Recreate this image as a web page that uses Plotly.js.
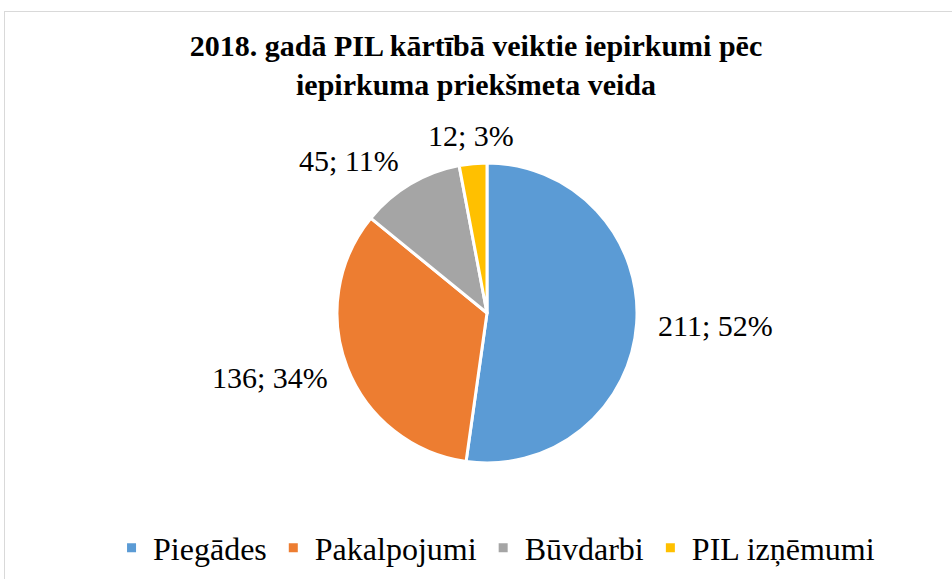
<!DOCTYPE html>
<html>
<head>
<meta charset="utf-8">
<script src="https://cdn.plot.ly/plotly-3.0.1.min.js"></script>
<style>
  html, body { margin: 0; padding: 0; background: #ffffff; }
  #chart { position: absolute; left: 0; top: 0; width: 952px; height: 579px; }
  #frame { position: absolute; left: 4px; top: 11px; width: 960px; height: 600px;
           border-left: 1px solid #d9d9d9; border-top: 1px solid #d9d9d9;
           pointer-events: none; z-index: 10; }
</style>
</head>
<body>
<div id="chart"></div>
<div id="frame"></div>
<script>
const categories = ["Piegādes", "Pakalpojumi", "Būvdarbi", "PIL izņēmumi"];
const values = [211, 136, 45, 12];
const colors = ["#5B9BD5", "#ED7D31", "#A5A5A5", "#FFC000"];
const titleText = "2018. gadā PIL kārtībā veiktie iepirkumi pēc<br>iepirkuma priekšmeta veida";

const SERIF = "'Times New Roman', 'Liberation Serif', 'DejaVu Serif', serif";
const W = 952, H = 579;
const cx = 487, cy = 313, R = 150, GAPX = 19, GAPY = 10, HALFH = 18;

const trace = {
  type: "pie",
  labels: categories,
  values: values,
  sort: false,
  direction: "clockwise",
  rotation: 0,
  marker: { colors: colors, line: { color: "#ffffff", width: 3 } },
  textinfo: "none",
  hoverinfo: "label+value+percent",
  domain: {
    x: [(cx - R) / W, (cx + R) / W],
    y: [(H - cy - R) / H, (H - cy + R) / H]
  }
};

// "value; percent" labels placed just outside each slice's mid angle
const total = values.reduce((a, b) => a + b, 0);
const annotations = [];
let cum = 0;
values.forEach((v) => {
  const mid = (cum + v / 2) / total * 2 * Math.PI;
  cum += v;
  const s = Math.sin(mid), c = Math.cos(mid);
  const px = cx + (R + GAPX) * s;
  const py = cy - (R + GAPY) * c - HALFH * c;
  annotations.push({
    xref: "paper", yref: "paper",
    x: px / W, y: 1 - py / H,
    text: v + "; " + Math.round(v / total * 100) + "%",
    showarrow: false,
    xanchor: s > 0.3 ? "left" : (s < -0.3 ? "right" : "center"),
    yanchor: "middle",
    font: { family: SERIF, size: 30, color: "#000000", weight: "normal" }
  });
});

const layout = {
  width: W,
  height: H,
  margin: { l: 0, r: 0, t: 0, b: 0 },
  paper_bgcolor: "#ffffff",
  font: { family: SERIF, size: 30, color: "#000000" },
  title: {
    text: titleText,
    font: { family: SERIF, size: 30, color: "#000000", weight: "bold" },
    x: 0.5, xanchor: "center",
    y: 1 - 56 / H, yanchor: "top", yref: "container"
  },
  annotations: annotations,
  showlegend: true,
  legend: {
    orientation: "h",
    x: 0.52, xanchor: "center",
    y: (H - 548) / H, yanchor: "middle",
    font: { family: SERIF, size: 32, color: "#000000", weight: "normal" },
    itemwidth: 33,
    traceorder: "normal",
    itemclick: false
  }
};

Plotly.newPlot("chart", [trace], layout, { displayModeBar: false, staticPlot: true });
</script>
</body>
</html>
